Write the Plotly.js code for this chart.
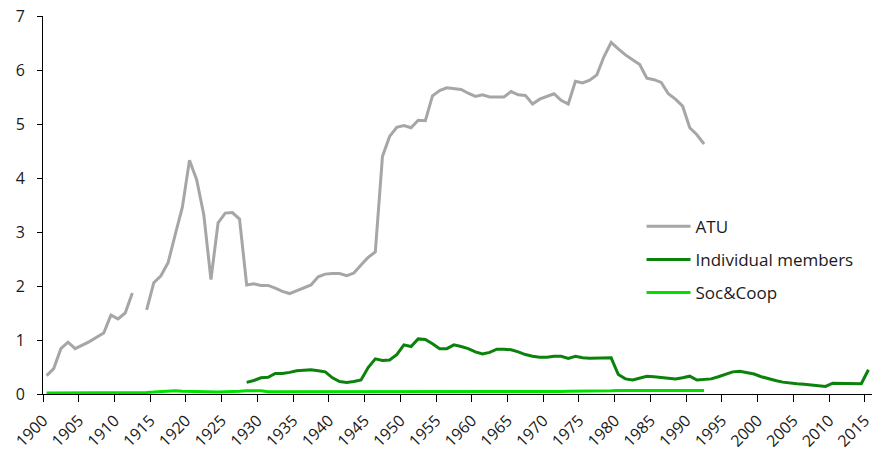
<!DOCTYPE html>
<html>
<head>
<meta charset="utf-8">
<script src="https://cdn.plot.ly/plotly-3.0.1.min.js"></script>
<style>
  html, body { margin: 0; padding: 0; background: #fff; }
  #chart { width: 872px; height: 452px; }
</style>
</head>
<body>
<div id="chart"></div>
<script>
  // Years 1900..2015, one category per year
  const firstYear = 1900;
  const lastYear = 2015;

  // ATU, 1900-1992 (1913 missing)
  const atu = [
    0.34, 0.47, 0.84, 0.96, 0.84, 0.90, 0.97, 1.05, 1.13, 1.46,
    1.39, 1.50, 1.87, null, 1.56, 2.06, 2.19, 2.43, 2.95, 3.46,
    4.33, 3.97, 3.32, 2.12, 3.17, 3.35, 3.36, 3.24, 2.02, 2.04,
    2.01, 2.01, 1.96, 1.90, 1.86, 1.91, 1.96, 2.02, 2.17, 2.22,
    2.23, 2.23, 2.19, 2.24, 2.39, 2.53, 2.63, 4.40, 4.77, 4.94,
    4.97, 4.93, 5.07, 5.06, 5.52, 5.62, 5.67, 5.65, 5.64, 5.57,
    5.51, 5.54, 5.50, 5.50, 5.50, 5.60, 5.54, 5.53, 5.37, 5.46,
    5.51, 5.56, 5.44, 5.37, 5.79, 5.76, 5.81, 5.91, 6.25, 6.51,
    6.39, 6.28, 6.19, 6.10, 5.85, 5.82, 5.77, 5.56, 5.46, 5.33,
    4.93, 4.80, 4.63
  ];

  // Individual members, 1928-2015
  const indivStart = 1928;
  const indiv = [
    0.215, 0.25, 0.30, 0.31, 0.38, 0.38, 0.40, 0.43, 0.44, 0.45,
    0.43, 0.41, 0.30, 0.23, 0.215, 0.23, 0.26, 0.49, 0.65, 0.62,
    0.63, 0.73, 0.91, 0.88, 1.02, 1.01, 0.93, 0.84, 0.84, 0.91,
    0.88, 0.84, 0.78, 0.74, 0.77, 0.83, 0.83, 0.82, 0.78, 0.73,
    0.70, 0.68, 0.68, 0.70, 0.70, 0.66, 0.70, 0.67, 0.66, 0.66,
    0.67, 0.67, 0.36, 0.28, 0.26, 0.29, 0.33, 0.32, 0.31, 0.30,
    0.28, 0.30, 0.33, 0.26, 0.27, 0.28, 0.32, 0.37, 0.41, 0.42,
    0.40, 0.37, 0.32, 0.28, 0.25, 0.22, 0.20, 0.19, 0.18, 0.17,
    0.16, 0.14, 0.20, 0.20, 0.19, 0.19, 0.19, 0.45
  ];

  // Soc&Coop, 1900-1992
  const socCoop = [
    0.02, 0.02, 0.02, 0.02, 0.02, 0.02, 0.02, 0.025, 0.025, 0.03,
    0.03, 0.03, 0.03, 0.03, 0.03, 0.035, 0.04, 0.05, 0.06, 0.05,
    0.045, 0.04, 0.035, 0.035, 0.035, 0.04, 0.04, 0.05, 0.06, 0.06,
    0.06, 0.04, 0.04, 0.04, 0.04, 0.045, 0.045, 0.045, 0.045, 0.04,
    0.04, 0.035, 0.035, 0.035, 0.04, 0.04, 0.045, 0.04, 0.04, 0.04,
    0.04, 0.04, 0.035, 0.035, 0.04, 0.04, 0.04, 0.035, 0.035, 0.035,
    0.035, 0.035, 0.035, 0.035, 0.035, 0.035, 0.035, 0.035, 0.035, 0.035,
    0.04, 0.045, 0.045, 0.05, 0.05, 0.055, 0.055, 0.06, 0.06, 0.06,
    0.065, 0.065, 0.065, 0.065, 0.065, 0.065, 0.065, 0.065, 0.065, 0.065,
    0.065, 0.065, 0.065
  ];

  const tickYears = [];
  for (let y = firstYear; y <= lastYear; y += 5) tickYears.push(y);

  const years = (start, n) => Array.from({ length: n }, (_, i) => start + i);

  const traces = [
    {
      name: 'ATU', x: years(firstYear, atu.length), y: atu,
      type: 'scatter', mode: 'lines', connectgaps: false,
      line: { color: '#a6a6a6', width: 3 }, legendgroup: 'a'
    },
    {
      name: 'Individual members', x: years(indivStart, indiv.length), y: indiv,
      type: 'scatter', mode: 'lines',
      line: { color: '#0b820b', width: 3 }, legendgroup: 'b'
    },
    {
      name: 'Soc&Coop', x: years(firstYear, socCoop.length), y: socCoop,
      type: 'scatter', mode: 'lines',
      line: { color: '#00e000', width: 3 }, legendgroup: 'c'
    }
  ];

  const layout = {
    width: 872, height: 452,
    margin: { t: 16, r: 0, b: 58, l: 43 },
    paper_bgcolor: '#fff', plot_bgcolor: '#fff',
    font: { family: 'Open Sans, sans-serif', size: 14, color: '#1a1a1a' },
    showlegend: true,
    legend: {
      x: 0.722, y: 0.49, xanchor: 'left', yanchor: 'top',
      font: { size: 17, color: '#1a1a1a' },
      tracegroupgap: 8, itemwidth: 44, bgcolor: 'rgba(0,0,0,0)'
    },
    xaxis: {
      type: 'linear', range: [firstYear - 0.5, lastYear + 0.5],
      tickvals: tickYears.map(y => y - 0.5), ticktext: tickYears.map(String),
      tickangle: -45, ticks: 'outside', ticklen: 7, tickcolor: '#000',
      showline: true, linecolor: '#000', linewidth: 1,
      showgrid: false, zeroline: false, ticklabeloverflow: 'allow',
      ticklabelstandoff: 3,
      tickfont: { size: 16 }
    },
    yaxis: {
      range: [0, 7], dtick: 1, ticks: 'outside', ticklen: 5, tickcolor: '#000',
      showline: true, linecolor: '#000', linewidth: 1,
      showgrid: false, zeroline: false, ticklabelstandoff: 9,
      tickfont: { size: 16 }
    }
  };

  Plotly.newPlot('chart', traces, layout, { staticPlot: true });
</script>
</body>
</html>
